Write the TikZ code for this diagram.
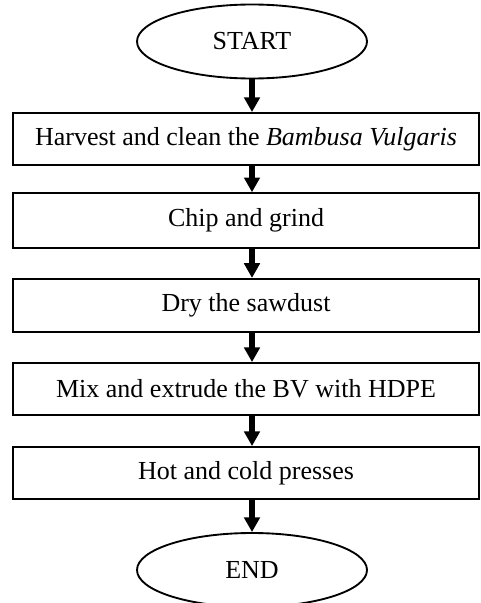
\documentclass[tikz,border=0pt]{standalone}
\usepackage{fontspec}
\setmainfont{Liberation Serif}
\usetikzlibrary{arrows.meta,shapes.geometric}

\tikzset{every picture/.style={line width=1.4pt}}
\tikzset{
  terminal/.style={draw, ellipse, inner sep=0pt, minimum width=172.5pt, minimum height=55.5pt, font=\fontsize{19.5}{23}\selectfont},
  stepbox/.style={draw, rectangle, inner sep=0pt, minimum width=349.5pt, font=\fontsize{19.5}{23}\selectfont},
  flow/.style={line width=3.8pt, -{Triangle[length=11pt, width=11.5pt]}}
}

\begin{document}
\begin{tikzpicture}[x=0.75pt,y=0.75pt,yscale=-1,xscale=1]
\path[use as bounding box] (0,0) rectangle (480,603);

%Shape: Ellipse [id:start]
\node [terminal] (start) at (252,41.5) {START};
%Shape: Rectangle [id:harvest]
\node [stepbox, minimum height=39pt] (harvest) at (246,139) {Harvest and clean the \textit{Bambusa Vulgaris}};
%Shape: Rectangle [id:chip]
\node [stepbox, minimum height=41pt] (chip) at (246,220.5) {Chip and grind};
%Shape: Rectangle [id:dry]
\node [stepbox, minimum height=40pt] (dry) at (246,305.5) {Dry the sawdust};
%Shape: Rectangle [id:mix]
\node [stepbox, minimum height=39pt] (mix) at (246,389) {Mix and extrude the BV with HDPE};
%Shape: Rectangle [id:press]
\node [stepbox, minimum height=39pt] (press) at (246,473) {Hot and cold presses};
%Shape: Ellipse [id:end]
\node [terminal] (end) at (252,570) {END};

%Straight Lines [id:arrows]
\draw [flow] (start.south) -- (start.south |- harvest.north) ;
\draw [flow] (harvest.south -| start) -- (chip.north -| start) ;
\draw [flow] (chip.south -| start) -- (dry.north -| start) ;
\draw [flow] (dry.south -| start) -- (mix.north -| start) ;
\draw [flow] (mix.south -| start) -- (press.north -| start) ;
\draw [flow] (press.south -| start) -- (end.north) ;

\end{tikzpicture}
\end{document}
